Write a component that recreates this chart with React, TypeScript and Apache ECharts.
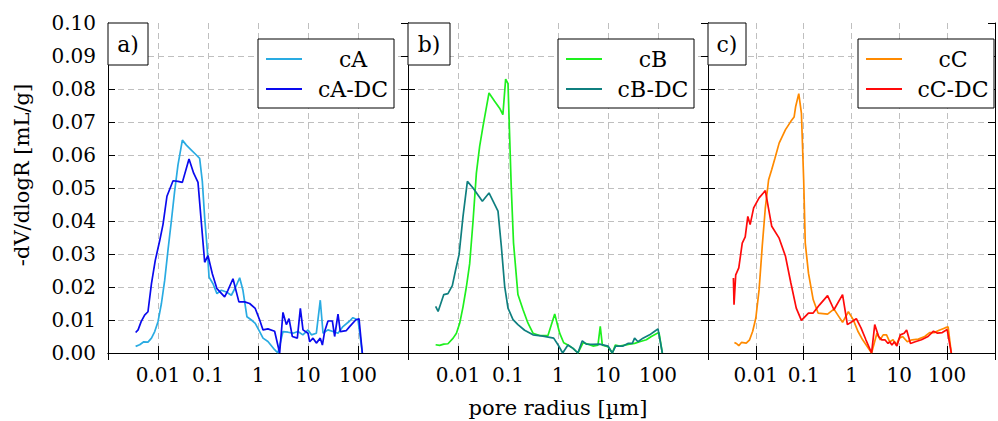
import React, { useEffect, useRef } from "react";
import * as echarts from "echarts";

// ---------------- data ----------------
const xTickLabels = ["0.01", "0.1", "1", "10", "100"];
const yTickLabels = ["0.00", "0.01", "0.02", "0.03", "0.04", "0.05", "0.06", "0.07", "0.08", "0.09", "0.10"];
const panelLabels = ["a)", "b)", "c)"];
const seriesNames = ["cA", "cA-DC", "cB", "cB-DC", "cC", "cC-DC"];
const xTitle = "pore radius [µm]";
const yTitle = "-dV/dlogR [mL/g]";

const cA_r = [0.00357,0.0043,0.0052,0.0063,0.0074,0.0086,0.01,0.0117,0.0136,0.0158,0.0185,0.0215,0.0251,0.0307,0.0369,0.0464,0.0584,0.0681,0.077,0.0858,0.097,0.105,0.126,0.151,0.185,0.233,0.293,0.357,0.43,0.5,0.6,0.74,0.88,1.08,1.26,1.58,2.15,2.5,3.16,3.98,5.0,6.3,7.9,10,11.7,14.7,17.6,20,25,31.6,39.8,50,68,79,100,122];
const cA_v = [0.002,0.0025,0.0034,0.0033,0.0045,0.0065,0.0095,0.015,0.022,0.031,0.04,0.049,0.057,0.0645,0.063,0.0615,0.06,0.059,0.052,0.041,0.031,0.023,0.021,0.018,0.019,0.0185,0.0175,0.02,0.0228,0.019,0.011,0.01,0.009,0.0065,0.0045,0.0035,0.001,0,0.0065,0.0063,0.006,0.0065,0.0055,0.007,0.0055,0.006,0.016,0.006,0.007,0.0065,0.006,0.008,0.0097,0.0107,0.01,0];

const cADC_r = [0.00357,0.004,0.0046,0.0054,0.0063,0.0074,0.0088,0.0108,0.0126,0.0151,0.02,0.0251,0.0307,0.0417,0.0517,0.0631,0.0736,0.0858,0.1,0.122,0.151,0.215,0.25,0.316,0.415,0.54,0.68,0.88,1.08,1.26,1.58,2.15,2.71,3.16,3.69,4.17,4.86,6.12,7.03,7.94,10,10.8,12.6,14.7,17.6,19.4,21.5,25.1,30.7,34.1,39.8,44.3,58.5,68,89.8,104.7,122];
const cADC_v = [0.0062,0.007,0.0095,0.0115,0.0125,0.021,0.028,0.034,0.039,0.0475,0.0522,0.052,0.0517,0.0588,0.0545,0.0517,0.0395,0.0275,0.0295,0.024,0.0195,0.017,0.019,0.0225,0.0155,0.0155,0.015,0.0135,0.01,0.007,0.0073,0.0066,0,0.0123,0.0086,0.0104,0.005,0.0045,0.0135,0.007,0.006,0.0034,0.0045,0.003,0.0045,0.0024,0.0065,0.0097,0.0097,0.005,0.0118,0.0065,0.0068,0.008,0.01,0.0104,0];

const cB_r = [0.00357,0.0043,0.0052,0.0063,0.008,0.0093,0.0108,0.0126,0.0147,0.0171,0.02,0.0233,0.0271,0.0316,0.0417,0.054,0.068,0.079,0.0897,0.1,0.116,0.129,0.158,0.2,0.25,0.316,0.43,0.63,0.86,1.08,1.3,1.58,2.0,2.5,3.16,3.98,5.0,6.3,7.0,7.7,10,12.2,14,17.1,21.5,27,34,43,58.5,73.6,92.7,104.7,122];
const cB_v = [0.0025,0.0023,0.0027,0.0028,0.0045,0.006,0.009,0.014,0.02,0.027,0.04,0.0545,0.0626,0.0687,0.0788,0.0763,0.0742,0.0722,0.083,0.0816,0.0505,0.0333,0.0177,0.0131,0.0091,0.006,0.0053,0.0053,0.0118,0.006,0.0031,0.0024,0.0014,0,0.0031,0.0027,0.0021,0.0024,0.0081,0.0024,0.0019,0,0.0024,0.0021,0.0024,0.0027,0.0029,0.0034,0.004,0.005,0.0058,0.0062,0];

const cBDC_r = [0.00357,0.004,0.0052,0.0063,0.0077,0.009,0.0105,0.0126,0.0154,0.02,0.0307,0.0417,0.0631,0.0736,0.0858,0.1,0.126,0.158,0.215,0.316,0.5,0.82,1.0,1.24,1.58,2.0,2.5,3.06,3.69,5.0,6.8,10,12.2,14.2,20,25,30.7,34,39.8,50,68,86,100,122];
const cBDC_v = [0.0141,0.0126,0.0177,0.018,0.0204,0.0253,0.0298,0.0414,0.052,0.05,0.046,0.0485,0.043,0.0323,0.0202,0.0136,0.0101,0.0086,0.0069,0.0055,0.0051,0.0045,0.0025,0,0.0024,0.0014,0,0.0037,0.0027,0.0026,0.0027,0.0021,0,0.0021,0.0021,0.0029,0.0029,0.0045,0.0034,0.0045,0.0055,0.0066,0.0073,0];

const cC_r = [0.00357,0.004,0.0044,0.005,0.0063,0.0074,0.0086,0.01,0.0117,0.0136,0.0158,0.0185,0.0215,0.0251,0.0307,0.0417,0.054,0.0631,0.0681,0.079,0.0897,0.1,0.108,0.126,0.158,0.2,0.316,0.43,0.54,0.65,0.86,1.08,1.36,1.71,2.15,2.63,3.4,3.98,4.6,5.4,6.3,7.4,8.6,10,11.7,14.7,18.5,25,34,43,54,68,89.8,104.7,122];
const cC_v = [0.0032,0.0028,0.0022,0.0032,0.003,0.004,0.0066,0.0106,0.0192,0.0323,0.044,0.0525,0.0556,0.059,0.0636,0.0677,0.0702,0.0715,0.0747,0.0786,0.0727,0.0525,0.0333,0.0242,0.0162,0.0121,0.0118,0.0133,0.0111,0.0093,0.0125,0.0102,0.0066,0.004,0.0019,0,0.006,0.004,0.0055,0.0055,0.0034,0.004,0.0024,0.0045,0.005,0.0034,0.004,0.0042,0.005,0.0062,0.0062,0.0069,0.0076,0.0079,0];

const cCDC_r = [0.0034,0.0035,0.0038,0.0044,0.0052,0.006,0.0068,0.0076,0.009,0.0117,0.0158,0.0215,0.0307,0.0417,0.054,0.07,0.0897,0.126,0.158,0.215,0.316,0.43,0.65,0.82,1.0,1.26,1.58,2.0,2.63,3.06,3.69,4.3,5.0,5.8,6.3,7.0,7.9,8.9,10.5,12.6,14.2,17.1,21.5,29,39.8,51.8,63,79,100,122];
const cCDC_v = [0.0227,0.0146,0.0237,0.0258,0.0333,0.0352,0.0414,0.0389,0.044,0.047,0.0492,0.0384,0.0348,0.0293,0.0212,0.0136,0.0099,0.0121,0.0121,0.0146,0.0174,0.0131,0.0177,0.0086,0.0094,0.0104,0.0076,0.004,0,0.0086,0.005,0.004,0.004,0.0029,0.0034,0.0024,0.0034,0.0021,0.0055,0.006,0.007,0.0029,0.0034,0.004,0.005,0.0066,0.006,0.0062,0.0071,0];

// ---------------- styling / layout ----------------
const FONT = "DejaVu Serif";
const FS_TICK = 20;
const FS_LEGEND = 22;
const FS_TITLE = 21;
const seriesColors = ["#29abe2", "#0a0aee", "#1ef01e", "#0f7f7f", "#ff8a00", "#ff0a0a"];
const seriesRadii = [cA_r, cADC_r, cB_r, cBDC_r, cC_r, cCDC_r];
const seriesValues = [cA_v, cADC_v, cB_v, cBDC_v, cC_v, cCDC_v];

const PANEL_LEFT = [108, 408, 708];
const PANEL_TOP = 23;
const PANEL_W = 300;
const PANEL_H = 330;
const LABEL_BOX_W = [40, 42, 38];

const zip = (r: number[], v: number[]) => r.map((x, i) => [x, v[i]]);

const textStyle = (text: string, size: number) => ({
  text,
  fill: "#000",
  fontFamily: FONT,
  fontSize: size,
  textAlign: "center",
  textVerticalAlign: "middle",
});

function buildOption() {
  const grid = PANEL_LEFT.map((l) => ({ left: l, top: PANEL_TOP, width: PANEL_W, height: PANEL_H }));
  const xAxis: any[] = [];
  const yAxis: any[] = [];
  PANEL_LEFT.forEach((_, i) => {
    const baseX = {
      gridIndex: i,
      type: "log",
      logBase: 10,
      min: 0.001,
      max: 1000,
      axisLine: { show: true, lineStyle: { color: "#000", width: 1 } },
      axisTick: { show: true, inside: true, length: 7, lineStyle: { color: "#000", width: 1 } },
      minorTick: { show: false },
    };
    xAxis.push({
      ...baseX,
      position: "bottom",
      axisLabel: {
        show: true,
        margin: 12,
        color: "#000",
        fontFamily: FONT,
        fontSize: FS_TICK,
        formatter: (v: number) => {
          const k = Math.round(Math.log10(v)) + 2;
          return k >= 0 && k < xTickLabels.length ? xTickLabels[k] : "";
        },
      },
      splitLine: {
        show: true,
        showMinLine: false,
        showMaxLine: false,
        lineStyle: { color: "#bfbfbf", width: 1, type: [6, 4] },
      },
    });
    xAxis.push({ ...baseX, position: "top", axisLabel: { show: false }, splitLine: { show: false } });

    const baseY = {
      gridIndex: i,
      type: "value",
      min: 0,
      max: 0.1,
      interval: 0.01,
      axisLine: { show: true, lineStyle: { color: "#000", width: 1 } },
      axisTick: { show: true, inside: true, length: 7, lineStyle: { color: "#000", width: 1 } },
    };
    yAxis.push({
      ...baseY,
      position: "left",
      axisLabel: {
        show: i === 0,
        margin: 12,
        color: "#000",
        fontFamily: FONT,
        fontSize: FS_TICK,
        formatter: (v: number) => yTickLabels[Math.round(v * 100)] ?? "",
      },
      splitLine: {
        show: true,
        showMinLine: false,
        showMaxLine: false,
        lineStyle: { color: "#bfbfbf", width: 1, type: [6, 4] },
      },
    });
    yAxis.push({ ...baseY, position: "right", axisLabel: { show: false }, splitLine: { show: false } });
  });

  const series = seriesNames.map((name, s) => {
    const panel = Math.floor(s / 2);
    return {
      name,
      type: "line",
      xAxisIndex: panel * 2,
      yAxisIndex: panel * 2,
      data: zip(seriesRadii[s], seriesValues[s]),
      showSymbol: false,
      symbol: "none",
      clip: true,
      lineStyle: { color: seriesColors[s], width: 1.7 },
      itemStyle: { color: seriesColors[s] },
      z: 2,
    };
  });

  const graphic: any[] = [];
  PANEL_LEFT.forEach((L, i) => {
    graphic.push({
      type: "rect",
      z: 100,
      shape: { x: L, y: PANEL_TOP, width: LABEL_BOX_W[i], height: 42 },
      style: { fill: "#fff", stroke: "#000", lineWidth: 1 },
    });
    graphic.push({
      type: "text",
      z: 101,
      x: L + LABEL_BOX_W[i] / 2,
      y: PANEL_TOP + 21,
      style: textStyle(panelLabels[i], FS_LEGEND),
    });
    const lx = L + 150;
    graphic.push({
      type: "rect",
      z: 100,
      shape: { x: lx, y: 39, width: 136, height: 69 },
      style: { fill: "#fff", stroke: "#000", lineWidth: 1 },
    });
    [0, 1].forEach((j) => {
      const s = i * 2 + j;
      const yy = j === 0 ? 59 : 89;
      graphic.push({
        type: "line",
        z: 101,
        shape: { x1: lx + 8, y1: yy, x2: lx + 44, y2: yy },
        style: { stroke: seriesColors[s], lineWidth: 1.8 },
      });
      graphic.push({ type: "text", z: 101, x: lx + 95, y: yy, style: textStyle(seriesNames[s], FS_LEGEND) });
    });
  });
  graphic.push({ type: "text", z: 101, x: 22, y: 175, rotation: Math.PI / 2, style: textStyle(yTitle, FS_TITLE) });
  graphic.push({ type: "text", z: 101, x: 558, y: 408, style: textStyle(xTitle, FS_TITLE) });

  return {
    animation: false,
    backgroundColor: "#fff",
    textStyle: { fontFamily: FONT },
    grid,
    xAxis,
    yAxis,
    series,
    graphic,
  };
}

export default function App() {
  const ref = useRef<HTMLDivElement>(null);
  useEffect(() => {
    if (!ref.current) return;
    const chart = echarts.init(ref.current, null, { renderer: "svg" });
    chart.setOption(buildOption() as any);
    return () => chart.dispose();
  }, []);
  return (
    <div
      ref={ref}
      style={{ position: "absolute", left: 0, top: 0, width: 998, height: 421, background: "#fff" }}
    />
  );
}
